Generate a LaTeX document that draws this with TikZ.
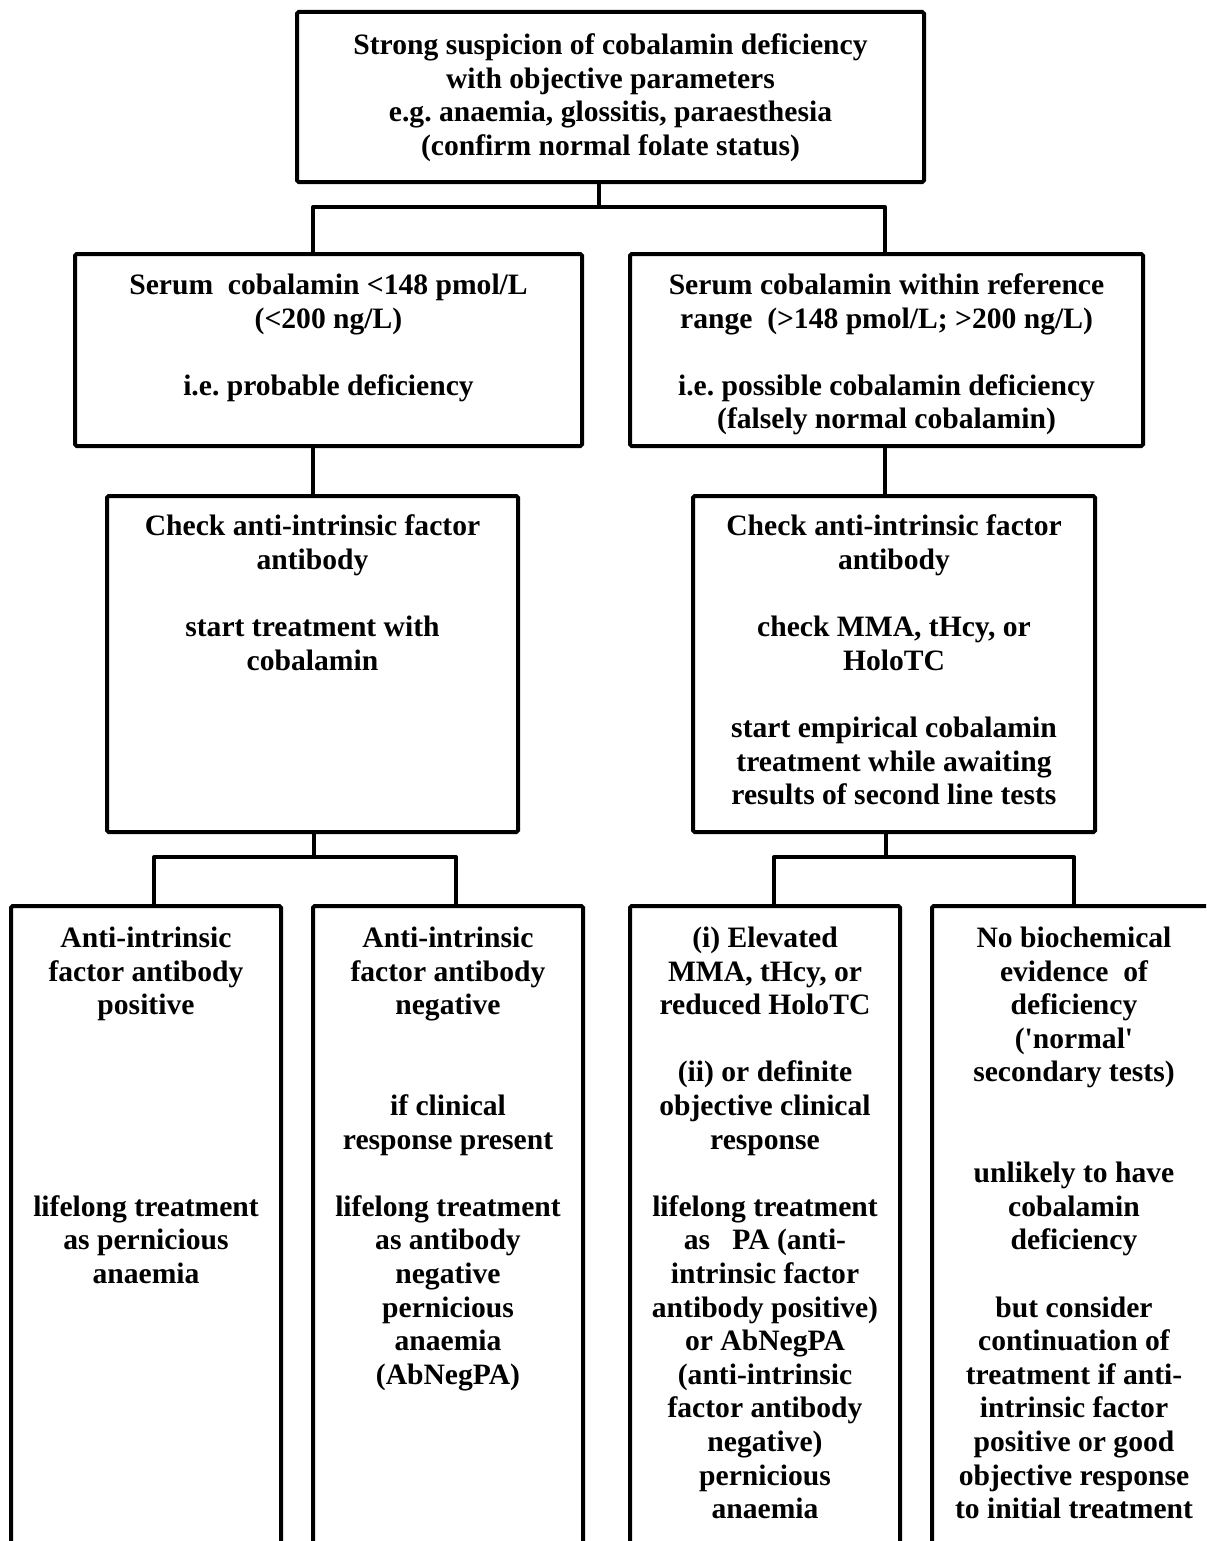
\documentclass[tikz,border=0pt]{standalone}
\usepackage{fontspec}
\setmainfont{Liberation Serif}
\frenchspacing
\begin{document}
\begin{tikzpicture}[x=0.5pt,y=-0.5pt,
  box/.style={draw=black,line width=2pt,rounded corners=0.8pt,inner sep=0pt,fill=none},
  txt/.style={align=center,inner sep=0pt,anchor=north,font=\fontsize{14.8}{16.8}\selectfont\bfseries\frenchspacing},
  conn/.style={draw=black,line width=2pt,line join=round}]
\fill[white] (0,0) rectangle (1206,1541);
\clip (0,0) rectangle (1206,1541);
% boxes
\node[box,minimum width=313.5pt,minimum height=85pt] (top) at (610.5,97) {};
\node[box,minimum width=253.5pt,minimum height=96pt] (L2a) at (328.5,350) {};
\node[box,minimum width=256.5pt,minimum height=96pt] (L2b) at (886.5,350) {};
\node[box,minimum width=205.5pt,minimum height=168pt] (L3a) at (312.5,664) {};
\node[box,minimum width=201pt,minimum height=168pt] (L3b) at (894,664) {};
\node[box,minimum width=135pt,minimum height=337pt] (B1) at (146,1243) {};
\node[box,minimum width=135pt,minimum height=337pt] (B2) at (448,1243) {};
\node[box,minimum width=135pt,minimum height=337pt] (B3) at (765,1243) {};
\node[box,minimum width=142pt,minimum height=337pt] (B4) at (1074,1243) {};
% texts
\node[txt] (tTop) at ([yshift=-10.25pt]top.north) {\strut Strong suspicion of cobalamin deficiency\\ with objective parameters\\ e.g. anaemia, glossitis, paraesthesia\\ (confirm normal folate status)};
\node[txt] (tL2a) at ([yshift=-9.25pt]L2a.north) {\strut Serum\ \ cobalamin <148 pmol/L\\ (<200 ng/L)\\[16.8pt] i.e. probable deficiency};
\node[txt] (tL2b) at ([yshift=-9.25pt]L2b.north) {\strut Serum cobalamin within reference\\ range\ \ (>148 pmol/L; >200 ng/L)\\[16.8pt] i.e. possible cobalamin deficiency\\ (falsely normal cobalamin)};
\node[txt] (tL3a) at ([yshift=-9pt]L3a.north) {\strut Check anti-intrinsic factor\\ antibody\\[16.8pt] start treatment with\\ cobalamin};
\node[txt] (tL3b) at ([yshift=-9pt]L3b.north) {\strut Check anti-intrinsic factor\\ antibody\\[16.8pt] check MMA, tHcy, or\\ HoloTC\\[16.8pt] start empirical cobalamin\\ treatment while awaiting\\ results of second line tests};
\node[txt] (tB1) at ([yshift=-9.75pt]B1.north) {\strut Anti-intrinsic\\ factor antibody\\ positive\\[84pt] lifelong treatment\\ as pernicious\\ anaemia};
\node[txt] (tB2) at ([yshift=-9.75pt]B2.north) {\strut Anti-intrinsic\\ factor antibody\\ negative\\[33.6pt] if clinical\\ response present\\[16.8pt] lifelong treatment\\ as antibody\\ negative\\ pernicious\\ anaemia\\ (AbNegPA)};
\node[txt] (tB3) at ([yshift=-9.75pt]B3.north) {\strut (i) Elevated\\ MMA, tHcy, or\\ reduced HoloTC\\[16.8pt] (ii) or definite\\ objective clinical\\ response\\[16.8pt] lifelong treatment\\ as\ \ \ PA (anti-\\ intrinsic factor\\ antibody positive)\\ or AbNegPA\\ (anti-intrinsic\\ factor antibody\\ negative)\\ pernicious\\ anaemia};
\node[txt] (tB4) at ([yshift=-9.75pt]B4.north) {\strut No biochemical\\ evidence\ \ of\\ deficiency\\ (\textquotesingle normal\textquotesingle\\ secondary tests)\\[33.6pt] unlikely to have\\ cobalamin\\ deficiency\\[16.8pt] but consider\\ continuation of\\ treatment if anti-\\ intrinsic factor\\ positive or good\\ objective response\\ to initial treatment};
% junction coordinates
\coordinate (j0) at (599,207);
\coordinate (ka) at (313,207);
\coordinate (kb) at (885,207);
\coordinate (m0) at (314,857);
\coordinate (ma) at (154,857);
\coordinate (mb) at (456,857);
\coordinate (n0) at (886,857);
\coordinate (na) at (774,857);
\coordinate (nb) at (1074,857);
% connectors
\draw[conn] (top.south -| j0) -- (j0);
\draw[conn] (L2a.north -| ka) -- (ka) -- (kb) -- (L2b.north -| kb);
\draw[conn] (L2a.south -| ka) -- (L3a.north -| ka);
\draw[conn] (L2b.south -| kb) -- (L3b.north -| kb);
\draw[conn] (L3a.south -| m0) -- (m0);
\draw[conn] (B1.north -| ma) -- (ma) -- (mb) -- (B2.north -| mb);
\draw[conn] (L3b.south -| n0) -- (n0);
\draw[conn] (B3.north -| na) -- (na) -- (nb) -- (B4.north -| nb);
\end{tikzpicture}
\end{document}
